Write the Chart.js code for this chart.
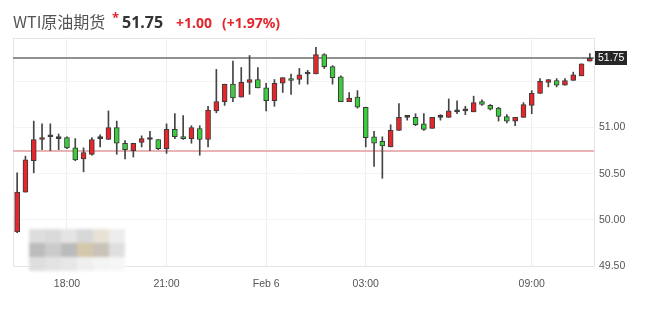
<!DOCTYPE html>
<html><head><meta charset="utf-8">
<script src="https://cdn.jsdelivr.net/npm/chart.js@4.4.1/dist/chart.umd.min.js"></script>
<style>
html,body{margin:0;padding:0;background:#fff;}
#wrap{position:relative;width:646px;height:329px;overflow:hidden;background:#fff;}
#c{position:absolute;left:0;top:0;}
#title{position:absolute;left:13px;top:10px;height:22px;line-height:22px;white-space:nowrap;font-family:'Noto Sans','Noto Sans CJK SC',sans-serif;}
#title span{display:inline-block;vertical-align:baseline;}
#t-name{width:99px;font-size:16px;color:#555;font-family:'Noto Sans CJK SC','Noto Sans',sans-serif;}
#t-star{width:10px;font-size:13px;font-weight:bold;color:#e4262c;position:relative;top:-6px;}
#t-price{width:54px;font-size:16px;font-weight:bold;color:#333;}
#t-chg{width:46px;font-size:14px;font-weight:bold;color:#e4262c;}
#t-pct{font-size:14px;font-weight:bold;color:#e4262c;}
#mosaic{position:absolute;left:29px;top:229px;width:96px;height:42px;display:grid;grid-template-columns:repeat(6,16px);grid-template-rows:repeat(3,14px);filter:blur(1.8px);opacity:0.95;}
#mosaic div{width:16px;height:14px;}
</style></head>
<body>
<div id="wrap">
  <canvas id="c" width="646" height="329"></canvas>
  <div id="title"><span id="t-name">WTI原油期货</span><span id="t-star">*</span><span id="t-price">51.75</span><span id="t-chg">+1.00</span><span id="t-pct">(+1.97%)</span></div>
  <div id="mosaic"></div>
</div>
<script>
// ---- data (15-minute candles) ----
const times = [
 '16:30','16:45','17:00','17:15','17:30','17:45',
 '18:00','18:15','18:30','18:45','19:00','19:15','19:30','19:45','20:00','20:15','20:30','20:45',
 '21:00','21:15','21:30','21:45','22:00','22:15','22:30','22:45','23:00','23:15','23:30','23:45',
 '00:00','00:15','00:30','00:45','01:00','01:15','01:30','01:45','02:00','02:15','02:30','02:45',
 '03:00','03:15','03:30','03:45','04:00','04:15','04:30','04:45','05:00','05:15','05:30','05:45',
 '07:00','07:15','07:30','07:45','08:00','08:15','08:30','08:45','09:00','09:15','09:30','09:45',
 '10:00','10:15','10:30','10:45'
];
const opens = [
 49.87,50.30,50.64,50.87,50.90,50.88,50.89,50.78,50.66,50.71,
 50.88,50.87,51.00,50.83,50.75,50.84,50.87,50.87,50.77,50.98,
 50.89,50.88,50.99,50.87,51.18,51.28,51.47,51.33,51.49,51.52,
 51.43,51.29,51.48,51.53,51.52,51.58,51.58,51.79,51.66,51.55,
 51.28,51.33,51.22,50.90,50.85,50.79,50.97,51.11,51.11,51.04,
 50.99,51.11,51.11,51.17,51.18,51.17,51.28,51.24,51.21,51.12,
 51.07,51.11,51.24,51.37,51.49,51.51,51.46,51.51,51.56,51.72
];
const highs = [
 50.51,50.69,51.07,51.04,51.04,50.93,50.90,50.88,50.78,50.89,
 50.92,51.18,51.07,50.86,50.83,50.91,50.96,50.87,51.04,51.15,
 51.13,51.02,51.02,51.23,51.63,51.47,51.72,51.65,51.78,51.65,
 51.48,51.52,51.54,51.58,51.64,51.62,51.87,51.80,51.67,51.56,
 51.38,51.40,51.22,50.96,50.90,51.03,51.26,51.13,51.15,51.15,
 51.11,51.14,51.31,51.29,51.23,51.34,51.30,51.25,51.22,51.14,
 51.11,51.27,51.40,51.53,51.52,51.53,51.53,51.60,51.69,51.80
];
const lows = [
 49.86,50.30,50.51,50.76,50.75,50.76,50.77,50.64,50.52,50.70,
 50.79,50.87,50.71,50.66,50.68,50.79,50.75,50.76,50.72,50.88,
 50.87,50.83,50.70,50.79,51.16,51.24,51.28,51.33,51.36,51.43,
 51.18,51.23,51.38,51.36,51.47,51.47,51.58,51.64,51.47,51.28,
 51.28,51.21,50.79,50.58,50.45,50.79,50.97,51.08,51.02,50.97,
 50.99,51.08,51.11,51.15,51.14,51.17,51.24,51.19,51.07,51.05,
 51.02,51.11,51.15,51.37,51.44,51.44,51.46,51.51,51.56,51.72
];
const closes = [
 50.30,50.65,50.87,50.89,50.90,50.88,50.78,50.65,50.73,50.87,
 50.88,51.00,50.83,50.76,50.83,50.88,50.87,50.77,50.98,50.90,
 50.88,51.00,50.87,51.19,51.28,51.47,51.32,51.49,51.52,51.43,
 51.29,51.48,51.54,51.51,51.57,51.58,51.79,51.66,51.54,51.28,
 51.32,51.22,50.89,50.83,50.80,50.97,51.11,51.11,51.03,50.98,
 51.11,51.11,51.18,51.17,51.18,51.27,51.25,51.20,51.12,51.07,
 51.11,51.25,51.37,51.50,51.52,51.46,51.51,51.57,51.69,51.75
];
const lastPrice = 51.75;
const prevClose = 50.75;
const yTickLabels = [49.5, 50.0, 50.5, 51.0];
const xTickLabels = {'18:00':'18:00','21:00':'21:00','00:00':'Feb 6','03:00':'03:00','09:00':'09:00'};

// ---- mosaic (blurred overlay in the reference) ----
const mosaicColors = ['#dcdcdc','#d9d9d9','#e3e3e3','#d6d6d6','#e6e1d3','#ececec',
 '#b9b9b9','#c9c9c9','#b8b8b8','#d3c4a6','#c6bfb5','#dedede',
 '#dddddd','#e2e2e2','#e6e6e6','#efefef','#f4f4f4','#f6f6f6'];
const m = document.getElementById('mosaic');
mosaicColors.forEach(c => { const d = document.createElement('div'); d.style.background = c; m.appendChild(d); });

const UP = '#e5262b', DOWN = '#3dcc3d', FLAT = '#333';
const bodyColors = opens.map((o,i) => closes[i] > o ? UP : (closes[i] < o ? DOWN : FLAT));

const overlay = {
  id: 'overlay',
  beforeDatasetsDraw(chart) {
    const {ctx, chartArea: a, scales: {y}} = chart;
    ctx.save();
    ctx.strokeStyle = '#e4e4e4'; ctx.lineWidth = 1;
    ctx.beginPath();
    ctx.moveTo(a.left + 0.5, a.top); ctx.lineTo(a.left + 0.5, a.bottom + 0.5);
    ctx.lineTo(a.right + 0.5, a.bottom + 0.5); ctx.lineTo(a.right + 0.5, a.top);
    ctx.moveTo(a.left, a.top + 0.5); ctx.lineTo(a.right, a.top + 0.5);
    ctx.stroke();
    const yp = Math.round(y.getPixelForValue(prevClose));
    ctx.fillStyle = '#e9b3b3'; ctx.fillRect(a.left, yp - 1, a.right - a.left, 2);
    const yl = Math.round(y.getPixelForValue(lastPrice));
    ctx.fillStyle = '#919191'; ctx.fillRect(a.left, yl - 1, a.right - a.left, 2);
    ctx.restore();
  },
  afterDraw(chart) {
    const {ctx, chartArea: a, scales: {y}} = chart;
    const yl = Math.round(y.getPixelForValue(lastPrice));
    ctx.save();
    ctx.fillStyle = '#262626';
    ctx.fillRect(a.right + 1, yl - 7, 32, 14);
    ctx.fillStyle = '#fff';
    ctx.font = '10.5px "Liberation Sans", Arial, sans-serif';
    ctx.textBaseline = 'middle'; ctx.textAlign = 'left';
    ctx.fillText(lastPrice.toFixed(2), a.right + 4, yl + 0.5);
    ctx.restore();
  }
};

new Chart(document.getElementById('c'), {
  type: 'bar',
  data: {
    labels: times,
    datasets: [
      { label: 'wick', data: lows.map((l,i) => [l, highs[i]]), backgroundColor: '#444', barThickness: 1, grouped: false, order: 2 },
      { label: 'body', data: opens.map((o,i) => [o, closes[i]]), backgroundColor: bodyColors, borderColor: '#3a3a3a', borderWidth: 1, borderSkipped: false, barThickness: 5, minBarLength: 2, grouped: false, order: 1 }
    ]
  },
  options: {
    responsive: false, animation: false,
    layout: { padding: { left: 13, top: 38, right: 0, bottom: 0 } },
    plugins: { legend: { display: false }, tooltip: { enabled: false } },
    scales: {
      x: {
        offset: true,
        grid: { offset: false, drawTicks: false, color: c => xTickLabels[times[c.index]] ? '#efefef' : 'rgba(0,0,0,0)' },
        border: { display: false },
        ticks: { autoSkip: false, maxRotation: 0, padding: 12, color: '#555', font: { size: 10.5, family: '"Liberation Sans", Arial, sans-serif' },
          callback: (v, i) => xTickLabels[times[i]] || '' },
        afterFit: s => { s.height = 63; }
      },
      y: {
        position: 'right', min: 49.5, max: 51.97,
        grid: { drawTicks: false, color: '#f4f4f4' },
        border: { display: false },
        ticks: { stepSize: 0.5, padding: 5, color: '#555', font: { size: 10.5, family: '"Liberation Sans", Arial, sans-serif' },
          callback: v => yTickLabels.some(t => Math.abs(t - v) < 1e-6) ? v.toFixed(2) : '' },
        afterFit: s => { s.width = 52; }
      }
    }
  },
  plugins: [overlay]
});
</script>
</body></html>
